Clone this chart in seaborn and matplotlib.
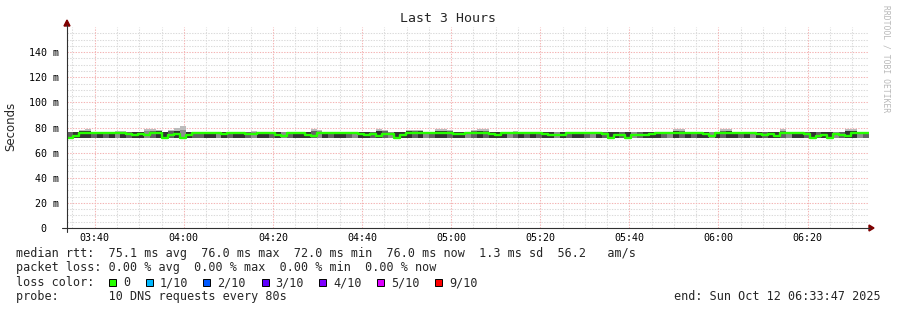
import numpy as np
import pandas as pd
import matplotlib
matplotlib.use("Agg")
import matplotlib.pyplot as plt
from matplotlib.lines import Line2D
from matplotlib.patches import Polygon, Rectangle
import seaborn as sns

W, H = 897, 310

# ---------------- data ----------------
median_ms = [72, 73, 76, 76, 76, 76, 76, 76, 76, 76,
             75, 74, 75, 74, 76, 76, 72, 74, 75, 72,
             74, 76, 76, 76, 76, 76, 75, 76, 76, 76,
             75, 75, 76, 76, 76, 74, 73, 76, 76, 76,
             74, 73, 76, 76, 76, 76, 76, 76, 76, 75,
             74, 75, 73, 75, 75, 72, 74, 76, 76, 76,
             76, 76, 76, 76, 76, 75, 75, 76, 76, 76,
             76, 75, 74, 76, 76, 76, 76, 76, 76, 76,
             75, 74, 74, 74, 76, 76, 76, 76, 76, 76,
             75, 72, 74, 74, 72, 74, 74, 74, 75, 76,
             76, 76, 76, 76, 76, 76, 76, 75, 73, 76,
             76, 76, 76, 76, 76, 76, 75, 74, 75, 73,
             76, 76, 76, 76, 75, 72, 73, 74, 72, 75,
             74, 73, 76, 76, 76]

smoke_hi = [76.8, 76.8, 78.0, 79.0, 76.8, 76.8, 76.8, 76.8, 77.5, 77.5,
            76.8, 76.8, 76.8, 78.5, 79.0, 78.0, 76.8, 78.0, 79.5, 81.0,
            76.8, 76.8, 76.8, 76.8, 76.8, 76.8, 76.8, 76.8, 76.8, 76.8,
            76.8, 77.5, 76.8, 76.8, 76.8, 76.8, 76.8, 76.8, 76.8, 76.8,
            76.8, 78.5, 78.0, 76.8, 76.8, 76.8, 76.8, 76.8, 76.8, 76.8,
            76.8, 76.8, 79.0, 78.0, 76.8, 76.8, 76.8, 78.0, 78.0, 78.0,
            76.8, 76.8, 78.5, 79.0, 78.0, 76.8, 76.8, 76.8, 78.0, 78.5,
            78.5, 76.8, 76.8, 76.8, 76.8, 77.5, 76.8, 76.8, 76.8, 76.8,
            76.8, 76.8, 76.8, 76.8, 76.8, 76.8, 76.8, 76.8, 76.8, 76.8,
            76.8, 76.8, 76.8, 76.8, 76.8, 76.8, 76.8, 76.8, 76.8, 76.8,
            76.8, 76.8, 78.5, 78.5, 76.8, 76.8, 76.8, 76.8, 76.8, 76.8,
            78.5, 78.5, 76.8, 76.8, 76.8, 76.8, 76.8, 76.8, 76.8, 76.8,
            78.5, 76.8, 76.8, 76.8, 76.8, 76.8, 76.8, 76.8, 76.8, 76.8,
            76.8, 78.5, 78.5, 76.8, 76.8]

smoke_core_hi = [76.4, 76.4, 77.2, 77.5, 76.4, 76.4, 76.4, 76.4, 76.8, 76.8,
                 76.4, 76.4, 76.4, 77.5, 77.5, 77.2, 76.4, 77.0, 77.5, 77.8,
                 76.4, 76.4, 76.4, 76.4, 76.4, 76.4, 76.4, 76.4, 76.4, 76.4,
                 76.4, 76.8, 76.4, 76.4, 76.4, 76.4, 76.4, 76.4, 76.4, 76.4,
                 76.4, 77.5, 77.0, 76.4, 76.4, 76.4, 76.4, 76.4, 76.4, 76.4,
                 76.4, 76.4, 77.5, 77.0, 76.4, 76.4, 76.4, 77.0, 77.0, 77.0,
                 76.4, 76.4, 77.2, 77.5, 77.0, 76.4, 76.4, 76.4, 77.0, 77.2,
                 77.2, 76.4, 76.4, 76.4, 76.4, 76.8, 76.4, 76.4, 76.4, 76.4,
                 76.4, 76.4, 76.4, 76.4, 76.4, 76.4, 76.4, 76.4, 76.4, 76.4,
                 76.4, 76.4, 76.4, 76.4, 76.4, 76.4, 76.4, 76.4, 76.4, 76.4,
                 76.4, 76.4, 77.2, 77.2, 76.4, 76.4, 76.4, 76.4, 76.4, 76.4,
                 77.2, 77.2, 76.4, 76.4, 76.4, 76.4, 76.4, 76.4, 76.4, 76.4,
                 77.2, 76.4, 76.4, 76.4, 76.4, 76.4, 76.4, 76.4, 76.4, 76.4,
                 76.4, 77.2, 77.2, 76.4, 76.4]

smoke_lo = [71.0, 71.5, 72.0, 72.0, 72.0, 71.5, 72.0, 72.0, 72.0, 72.0,
            72.0, 71.5, 72.0, 72.0, 72.0, 72.0, 71.0, 72.0, 72.0, 71.0,
            71.5, 72.0, 72.0, 72.0, 71.5, 72.0, 72.0, 72.0, 72.0, 72.0,
            72.0, 72.0, 72.0, 71.5, 72.0, 72.0, 71.5, 72.0, 72.0, 72.0,
            72.0, 71.5, 72.0, 72.0, 72.0, 72.0, 71.5, 72.0, 72.0, 72.0,
            72.0, 72.0, 71.5, 72.0, 72.0, 71.0, 71.5, 72.0, 72.0, 72.0,
            72.0, 72.0, 72.0, 71.5, 72.0, 72.0, 72.0, 72.0, 72.0, 72.0,
            72.0, 72.0, 71.5, 72.0, 72.0, 72.0, 72.0, 72.0, 71.5, 72.0,
            72.0, 72.0, 71.5, 72.0, 72.0, 72.0, 72.0, 72.0, 72.0, 72.0,
            72.0, 71.0, 72.0, 72.0, 71.0, 72.0, 71.5, 72.0, 72.0, 72.0,
            72.0, 72.0, 72.0, 72.0, 71.5, 72.0, 72.0, 72.0, 71.5, 72.0,
            72.0, 72.0, 72.0, 72.0, 72.0, 72.0, 72.0, 72.0, 72.0, 71.5,
            72.0, 72.0, 72.0, 72.0, 72.0, 71.0, 71.5, 72.0, 71.0, 72.0,
            72.0, 71.5, 72.0, 72.0, 72.0]

smoke_tone = ("MDDDMDMDLD" "MDDLMDDMDL" "DMMDDLDMDD" "MLDDMDLMDD" "DMLDMDDMLD"
              "DMDMLDDDMD" "LMDDMDDLMD" "MDDDLMDMDM" "DDLDMDDMLD" "MDDMDLMDDD"
              "MLDMDMDDLD" "MDDMDLDMDD" "MLDDMDMDDL" "MDDLM")

y_ticks = [0, 20, 40, 60, 80, 100, 120, 140]
y_tick_labels = ["0  ", "20 m", "40 m", "60 m", "80 m", "100 m", "120 m", "140 m"]
x_tick_minutes = [220, 240, 260, 280, 300, 320, 340, 360, 380]
x_tick_labels = ["03:40", "04:00", "04:20", "04:40", "05:00",
                 "05:20", "05:40", "06:00", "06:20"]

loss_labels = ["0", "1/10", "2/10", "3/10", "4/10", "5/10", "9/10"]
loss_colors = ["#26ff00", "#00b8ff", "#0059ff", "#5e00ff", "#7e00ff", "#dd00ff", "#ff0000"]

title = "Last 3 Hours"
y_label = "Seconds"
stats_line = "median rtt:  75.1 ms avg  76.0 ms max  72.0 ms min  76.0 ms now  1.3 ms sd  56.2   am/s"
loss_line = "packet loss: 0.00 % avg  0.00 % max  0.00 % min  0.00 % now"
probe_line = "probe:       10 DNS requests every 80s"
end_line = "end: Sun Oct 12 06:33:47 2025"
watermark = "RRDTOOL / TOBI OETIKER"

end_minute = 6 * 60 + 33 + 47 / 60.0
step_min = 80 / 60.0

# ---------------- figure ----------------
sns.set_style("white")
plt.rcParams["font.family"] = ["DejaVu Sans Mono", "DejaVu Sans"]

fig = plt.figure(figsize=(W / 100, H / 100), dpi=100)
fig.patch.set_facecolor("white")

L, R, T, B = 67, 869, 27, 228
ax = fig.add_axes([L / W, 1 - B / H, (R - L) / W, (B - T) / H])
ax.set_facecolor("white")

n = len(median_ms)
start_minute = end_minute - n * step_min
left_edges = start_minute + np.arange(n) * step_min

lo = np.array(smoke_lo)
hi = np.array(smoke_hi)
core = np.array(smoke_core_hi)
tone_map = {"D": "#333333", "M": "#636363", "L": "#8e8e8e"}
tone_cols = [tone_map[c] for c in smoke_tone]

ax.bar(left_edges, hi - lo, bottom=lo, width=step_min, align="edge",
       color="#bcbcbc", linewidth=0, zorder=2)
ax.bar(left_edges, core - lo, bottom=lo, width=step_min, align="edge",
       color=tone_cols, linewidth=0, zorder=3)

df = pd.DataFrame({"t": np.append(left_edges, left_edges[-1] + step_min),
                   "median": median_ms + [median_ms[-1]]})
sns.lineplot(data=df, x="t", y="median", ax=ax, drawstyle="steps-post",
             color="#26ff00", linewidth=1.7, estimator=None, errorbar=None,
             zorder=4)

ax.set_xlim(start_minute, end_minute)
ax.set_ylim(0, 160)

# grid
minor_col = "#dadada"
major_col = "#f4b4b4"
dots = (0, (1.3, 1.3))
for m in np.arange(215, 395, 5):
    if m % 20 != 0 and start_minute < m < end_minute:
        ax.axvline(m, color=minor_col, lw=0.75, ls=dots, zorder=1)
for v in range(5, 160, 5):
    if v % 20 != 0:
        ax.axhline(v, color=minor_col, lw=0.75, ls=dots, zorder=1)
for m in x_tick_minutes:
    ax.axvline(m, color=major_col, lw=0.75, ls=dots, zorder=1)
for v in y_ticks[1:]:
    ax.axhline(v, color=major_col, lw=0.75, ls=dots, zorder=1)

ax.set_xticks(x_tick_minutes)
ax.set_xticklabels(x_tick_labels)
ax.set_yticks(y_ticks)
ax.set_yticklabels(y_tick_labels)
ax.tick_params(axis="both", length=0, labelsize=7.2, colors="#000000")
ax.tick_params(axis="y", pad=6)
ax.tick_params(axis="x", pad=3.5)
for s in ax.spines.values():
    s.set_visible(False)
ax.set_xlabel("")
ax.set_ylabel("")


def fx(x):
    return x / W


def fy(y):
    return 1 - y / H


axis_col = "#303030"
fig.add_artist(Line2D([fx(62), fx(870)], [fy(228), fy(228)], color=axis_col, lw=0.8))
fig.add_artist(Line2D([fx(67), fx(67)], [fy(232), fy(25)], color=axis_col, lw=0.8))
arrow_col = "#7f0000"
fig.add_artist(Polygon([[fx(869), fy(225)], [fx(874), fy(228)], [fx(869), fy(231)]],
                       closed=True, color=arrow_col, transform=fig.transFigure))
fig.add_artist(Polygon([[fx(64), fy(26)], [fx(67), fy(20)], [fx(70), fy(26)]],
                       closed=True, color=arrow_col, transform=fig.transFigure))

# texts
fig.text(fx(448), fy(19), title, ha="center", va="center", fontsize=9.5)
fig.text(fx(11), fy(126), y_label, ha="center", va="center", rotation=90,
         family="DejaVu Sans", fontsize=8.5)
fig.text(fx(886), fy(5), watermark, ha="center", va="top", rotation=270,
         fontsize=5.8, color="#b8b8b8")

fs = 8.5
fig.text(fx(16), fy(257.5), stats_line, ha="left", va="baseline", fontsize=fs)
fig.text(fx(16), fy(271.5), loss_line, ha="left", va="baseline", fontsize=fs)
fig.text(fx(16), fy(286), "loss color:", ha="left", va="baseline", fontsize=fs)
box_x = [109, 146, 203, 262, 319, 377, 435]
lab_x = [123, 160, 217, 275, 333, 391, 449]
for bx, lx, lab, col in zip(box_x, lab_x, loss_labels, loss_colors):
    fig.add_artist(Rectangle((fx(bx), fy(286)), 7 / W, 7 / H, transform=fig.transFigure,
                             facecolor=col, edgecolor="#000000", linewidth=0.7))
    fig.text(fx(lx), fy(286), lab, ha="left", va="baseline", fontsize=fs)
fig.text(fx(16), fy(300), probe_line, ha="left", va="baseline", fontsize=fs)
fig.text(fx(881), fy(300), end_line, ha="right", va="baseline", fontsize=fs)

fig.savefig("out.png", dpi=100, facecolor="white")
